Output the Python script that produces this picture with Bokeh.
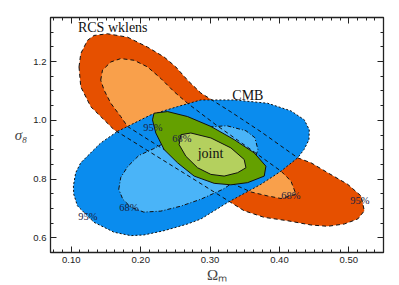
from bokeh.plotting import figure
from bokeh.models import FixedTicker, NumeralTickFormatter, LinearAxis, Label, CustomJSTickFormatter
from bokeh.embed import file_html
from bokeh.resources import INLINE

# ---------------- data (Omega_m, sigma_8) contour vertices ----------------
rcs95_om = [0.1111, 0.1136, 0.1232, 0.1328, 0.1521, 0.1810, 0.2098, 0.2338, 0.2506, 0.2675,
            0.2867, 0.3300, 0.3733, 0.4263, 0.4455, 0.4696, 0.4984, 0.5176, 0.5224, 0.5128,
            0.4935, 0.4696, 0.4455, 0.4118, 0.3781, 0.3492, 0.3300, 0.2723, 0.2146, 0.1616,
            0.1472, 0.1280, 0.1136]
rcs95_s8 = [1.1818, 1.2270, 1.2720, 1.2889, 1.2946, 1.2831, 1.2493, 1.2155, 1.1818, 1.1368,
            1.0929, 1.0287, 0.9611, 0.8723, 0.8554, 0.8216, 0.7821, 0.7426, 0.6919, 0.6639,
            0.6470, 0.6392, 0.6436, 0.6581, 0.6696, 0.6919, 0.7203, 0.8057, 0.8902, 0.9680,
            1.0017, 1.0466, 1.1142]

rcs68_om = [0.1424, 0.1449, 0.1569, 0.1713, 0.1905, 0.2098, 0.2290, 0.2482, 0.2675, 0.3084,
            0.3589, 0.4022, 0.4166, 0.4238, 0.4022, 0.3830, 0.3589, 0.2867, 0.2290, 0.1810,
            0.1713, 0.1569, 0.1472]
rcs68_s8 = [1.1368, 1.1706, 1.1986, 1.2101, 1.2044, 1.1818, 1.1426, 1.0973, 1.0581, 0.9848,
            0.9003, 0.8270, 0.7932, 0.7483, 0.7338, 0.7426, 0.7561, 0.8328, 0.9071, 0.9791,
            1.0128, 1.0581, 1.1030]

cmb95_om = [0.1665, 0.1810, 0.2146, 0.2531, 0.2867, 0.3348, 0.3830, 0.4166, 0.4358, 0.4430,
            0.4426, 0.4354, 0.4263, 0.4022, 0.3733, 0.3253, 0.2867, 0.2675, 0.2338, 0.2049,
            0.1857, 0.1616, 0.1328, 0.1183, 0.1088, 0.1035, 0.1030, 0.1063, 0.1136, 0.1280,
            0.1424]
cmb95_s8 = [0.9622, 0.9791, 1.0186, 1.0466, 1.0693, 1.0693, 1.0581, 1.0321, 1.0017, 0.9680,
            0.9341, 0.9003, 0.8723, 0.8270, 0.7821, 0.7203, 0.6639, 0.6470, 0.6243, 0.6098,
            0.6074, 0.6189, 0.6527, 0.6865, 0.7088, 0.7483, 0.7764, 0.8216, 0.8554, 0.8892,
            0.9230]

cmb68_om = [0.1684, 0.1713, 0.1814, 0.1973, 0.2189, 0.2434, 0.2723, 0.3012, 0.3242, 0.3517,
            0.3646, 0.3690, 0.3618, 0.3444, 0.3185, 0.2867, 0.2579, 0.2290, 0.2045, 0.1857,
            0.1742]
cmb68_s8 = [0.7652, 0.8057, 0.8429, 0.8801, 0.9037, 0.9341, 0.9611, 0.9780, 0.9814, 0.9645,
            0.9409, 0.9003, 0.8497, 0.8057, 0.7652, 0.7314, 0.7078, 0.6909, 0.6875, 0.7044,
            0.7314]

joint95_om = [0.2170, 0.2193, 0.2387, 0.2675, 0.3012, 0.3348, 0.3636, 0.3805, 0.3781, 0.3541,
              0.3300, 0.3059, 0.2771, 0.2531, 0.2338, 0.2218]
joint95_s8 = [1.0017, 1.0243, 1.0297, 1.0128, 0.9791, 0.9341, 0.8892, 0.8439, 0.8101, 0.7878,
              0.7804, 0.7855, 0.8101, 0.8554, 0.9003, 0.9568]

joint68_om = [0.2554, 0.2579, 0.2723, 0.3012, 0.3300, 0.3492, 0.3517, 0.3397, 0.3203, 0.3012,
              0.2820, 0.2651]
joint68_s8 = [0.9172, 0.9510, 0.9568, 0.9399, 0.9061, 0.8666, 0.8385, 0.8216, 0.8101, 0.8159,
              0.8385, 0.8777]

# tick values and labels
x_major = [0.10, 0.20, 0.30, 0.40, 0.50]
y_major = [0.6, 0.8, 1.0, 1.2]
x_minor = [0.075 + 0.0125 * i for i in range(39)]
y_minor = [0.55 + 0.05 * i for i in range(17)]

# text annotations: (text, Omega_m, sigma_8)
name_labels = [("RCS wklens", 0.1597, 1.3159), ("CMB", 0.3545, 1.0828), ("joint", 0.3007, 0.8868)]
pct_labels = [("95%", 0.2175, 0.9764), ("68%", 0.2593, 0.9375), ("68%", 0.1828, 0.7044),
              ("95%", 0.1237, 0.6723), ("68%", 0.4166, 0.7449), ("95%", 0.5160, 0.7280)]
title_text = "Flat + BBN"

SERIF = "Liberation Serif"
SANS = "Liberation Sans"

p = figure(width=399, height=285, x_range=(0.07, 0.55), y_range=(0.55, 1.35),
           output_backend="svg", toolbar_location=None,
           min_border_left=50, min_border_right=16, min_border_top=17, min_border_bottom=32)
p.background_fill_color = "white"
p.border_fill_color = "white"
p.xgrid.grid_line_color = None
p.ygrid.grid_line_color = None
p.outline_line_color = "#222222"
p.outline_line_width = 1.3

# fills
p.patch(rcs95_om, rcs95_s8, fill_color="#E65000", line_color=None)
p.patch(rcs68_om, rcs68_s8, fill_color="#F9A04B", line_color=None)
p.patch(cmb95_om, cmb95_s8, fill_color="#0A8CEE", line_color=None)
p.patch(cmb68_om, cmb68_s8, fill_color="#4AB4F8", line_color=None)
# outlines of RCS and CMB
p.patch(rcs95_om, rcs95_s8, fill_color=None, line_color="#111111", line_dash="4 3", line_width=1)
p.patch(rcs68_om, rcs68_s8, fill_color=None, line_color="#111111", line_dash="4 3", line_width=1)
p.patch(cmb95_om, cmb95_s8, fill_color=None, line_color="#111111", line_dash="2 2", line_width=1)
p.patch(cmb68_om, cmb68_s8, fill_color=None, line_color="#111111", line_dash="4 2 1 2", line_width=1)
# joint
p.patch(joint95_om, joint95_s8, fill_color="#64A000", line_color="#111111", line_width=1)
p.patch(joint68_om, joint68_s8, fill_color="#B4D05E", line_color="#111111", line_width=1)

for t, xo, yo in name_labels:
    p.add_layout(Label(x=xo, y=yo, text=t, text_font=SERIF, text_font_size="14px",
                       text_align="center", text_baseline="middle", text_color="#111111"))
for t, xo, yo in pct_labels:
    p.add_layout(Label(x=xo, y=yo, text=t, text_font=SERIF, text_font_size="10.5px",
                       text_align="center", text_baseline="middle", text_color="#1c2340"))
p.add_layout(Label(x=0.520, y=1.360, text=title_text, text_font=SERIF, text_font_size="14px",
                   text_align="right", text_baseline="bottom", text_color="#111111"))

xt = FixedTicker(ticks=x_major, minor_ticks=x_minor)
yt = FixedTicker(ticks=y_major, minor_ticks=y_minor)


def style(ax, labels=True):
    ax.axis_line_color = None
    ax.major_tick_in = 6
    ax.major_tick_out = 0
    ax.minor_tick_in = 3
    ax.minor_tick_out = 0
    ax.major_tick_line_color = "#222222"
    ax.minor_tick_line_color = "#222222"
    if labels:
        ax.major_label_text_font = SANS
        ax.major_label_text_font_size = "9.5px"
        ax.major_label_text_color = "#222222"
        ax.major_label_standoff = 4
    else:
        ax.formatter = CustomJSTickFormatter(code="return ''")
        ax.major_label_text_color = None
        ax.major_label_standoff = 0


xa = p.xaxis[0]
xa.ticker = xt
xa.formatter = NumeralTickFormatter(format="0.00")
xa.axis_label = "Ωₘ"
xa.axis_label_text_font = SERIF
xa.axis_label_text_font_size = "15px"
xa.axis_label_text_font_style = "normal"
xa.axis_label_standoff = 1
style(xa)

ya = p.yaxis[0]
ya.ticker = yt
ya.formatter = NumeralTickFormatter(format="0.0")
ya.axis_label = "σ₈"
ya.axis_label_orientation = "horizontal"
ya.axis_label_text_font = SERIF
ya.axis_label_text_font_size = "15px"
ya.axis_label_text_font_style = "italic"
ya.axis_label_standoff = 3
style(ya)

top = LinearAxis(ticker=xt)
style(top, labels=False)
p.add_layout(top, "above")
right = LinearAxis(ticker=yt)
style(right, labels=False)
p.add_layout(right, "right")

open("out.html", "w").write(file_html(p, INLINE))
